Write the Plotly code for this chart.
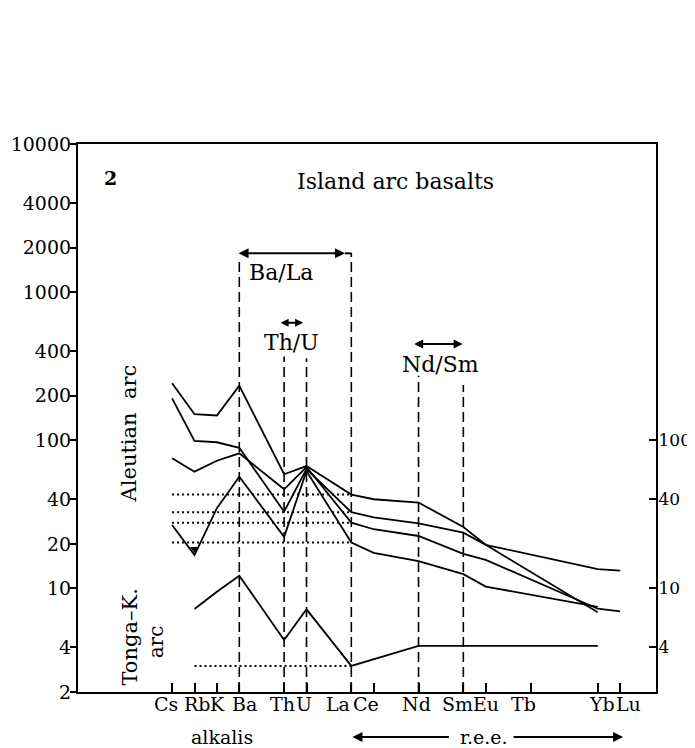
import math
import plotly.graph_objects as go

# ---------------- data ----------------
elements = ["Cs", "Rb", "K", "Ba", "Th", "U", "La", "Ce", "Nd", "Sm", "Eu", "Tb", "Yb", "Lu"]
element_pos = [0, 1, 2, 3, 5, 6, 8, 9, 11, 13, 14, 16, 19, 20]

# Aleutian arc basalts (normalised abundances)
aleutian_1 = [243, 150, 147, 234, 59, 67, 43, 40, 38, 26, 19.7, None, 6.9, None]
aleutian_2 = [192, 99, 97, 89, 33, 64, 32.7, 30.2, 27.5, 23.8, 19.7, None, 13.5, 13.2]
aleutian_3 = [75.6, 61.4, 72.8, 81.7, 46.7, 66, 27.8, 25.1, 22.6, 17.1, 15.6, None, 7.3, 7.0]
aleutian_4 = [26.8, 16.8, 34.8, 56.8, 22.3, 62, 20.4, 17.4, 15.3, 12.5, 10.3, None, 7.5, None]
# Tonga-Kermadec arc
tonga = [None, 7.26, 9.5, 12.2, 4.49, 7.23, 3.0, None, 4.1, None, None, None, 4.1, None]

y_ticks = [2, 4, 10, 20, 40, 100, 200, 400, 1000, 2000, 4000, 10000]
y_ticks_right = [4, 10, 40, 100]

# ---------------- figure ----------------
FONT = "DejaVu Serif"
pos = dict(zip(elements, element_pos))

fig = go.Figure()

line_style = dict(color="black", width=1.8)
for series in [aleutian_1, aleutian_2, aleutian_3, aleutian_4, tonga]:
    fig.add_trace(go.Scatter(x=element_pos, y=series, mode="lines", line=line_style,
                             connectgaps=True, showlegend=False, hoverinfo="skip"))

# dotted reference levels at the La value, running back to the alkalis
i_la = elements.index("La")
for series, start in [(aleutian_1, "Cs"), (aleutian_2, "Cs"), (aleutian_3, "Cs"),
                      (aleutian_4, "Cs"), (tonga, "Rb")]:
    fig.add_trace(go.Scatter(x=[pos[start], pos["La"]], y=[series[i_la], series[i_la]],
                             mode="lines", line=dict(color="black", width=2, dash="2px,3px"),
                             showlegend=False, hoverinfo="skip"))

# small notch at Rb on the lowest Aleutian curve
i_rb = elements.index("Rb")
fig.add_trace(go.Scatter(x=[pos["Rb"]], y=[aleutian_4[i_rb] * 1.1], mode="markers",
                         marker=dict(symbol="triangle-down", size=8, color="black"),
                         showlegend=False, hoverinfo="skip"))

# dummy trace so the right-hand axis is drawn
fig.add_trace(go.Scatter(x=[None], y=[None], yaxis="y2", showlegend=False, hoverinfo="skip"))

# dashed verticals (ratio markers)
dash_tops = {"Ba": 0.794, "La": 0.801, "Th": 0.612, "U": 0.609, "Nd": 0.577, "Sm": 0.560}
for el, top in dash_tops.items():
    fig.add_shape(type="line", xref="x", yref="paper", x0=pos[el], x1=pos[el], y0=0, y1=top,
                  line=dict(color="black", width=1.6, dash="10px,5px"))

# double-headed arrows
def double_arrow(x_head, y_paper, length_px, size=1.0):
    fig.add_annotation(x=x_head, y=y_paper, xref="x", yref="paper", text="",
                       showarrow=True, arrowhead=2, arrowside="end+start", arrowsize=size,
                       arrowwidth=2, arrowcolor="black", axref="pixel", ayref="pixel",
                       ax=-length_px, ay=0, standoff=0, startstandoff=0)

double_arrow(7.72, 0.8005, 108)        # Ba/La
double_arrow(5.85, 0.674, 24, 0.8)     # Th/U
double_arrow(12.97, 0.635, 50, 0.9)    # Nd/Sm
fig.add_shape(type="line", xref="x", yref="paper", x0=7.72, x1=pos["La"], y0=0.8005, y1=0.8005,
              line=dict(color="black", width=2))

# r.e.e. arrows below the axis
fig.add_annotation(x=8.05, y=-0.082, xref="x", yref="paper", text="", showarrow=True,
                   arrowhead=2, arrowsize=1.0, arrowwidth=2, arrowcolor="black",
                   axref="pixel", ayref="pixel", ax=98, ay=0, standoff=0)
fig.add_annotation(x=20.13, y=-0.082, xref="x", yref="paper", text="", showarrow=True,
                   arrowhead=2, arrowsize=1.0, arrowwidth=2, arrowcolor="black",
                   axref="pixel", ayref="pixel", ax=-111, ay=0, standoff=0)

def label(text, x, y, size=20, angle=0, xref="x", xshift=0):
    fig.add_annotation(x=x, y=y, xref=xref, yref="paper", text=text, showarrow=False,
                       textangle=angle, font=dict(family=FONT, size=size, color="black"),
                       xanchor="center", yanchor="middle", xshift=xshift)

# element labels under the axis (typeset positions nudged as in the print)
label_nudge = [-6.5, 2, 1, 5, -2, -3, -13.5, -8, -2, -6, 0, -7, 4.5, 8]
for el, xp, dx in zip(elements, element_pos, label_nudge):
    label(el, xp, -0.0215, 19, xshift=dx)

label("r.e.e.", 13.9, -0.082, 19)
label("alkalis", 2.23, -0.082, 19)
label("Island arc basalts", 9.96, 0.931, 22)
label("<b>2</b>", -2.77, 0.9385, 19)
label("Ba/La", 4.87, 0.765, 22)
label("Th/U", 5.34, 0.637, 22)
label("Nd/Sm", 12.0, 0.597, 22)
label("Aleutian  arc", -1.92, 0.472, 21, -90)
label("Tonga\u2013K.", -1.875, 0.0995, 21, -90)
label("arc", -0.71, 0.091, 20, -90)

yrange = [math.log10(2), 4]

fig.update_layout(
    width=687, height=740,
    margin=dict(l=70, r=39, t=136, b=56),
    paper_bgcolor="white", plot_bgcolor="white",
    font=dict(family=FONT, size=19, color="black"),
    showlegend=False,
    xaxis=dict(range=[-4.2, 21.6], tickmode="array", tickvals=element_pos,
               showticklabels=False, automargin=False,
               ticks="inside", ticklen=9, tickwidth=1.6, tickcolor="black",
               showline=True, linewidth=2.2, linecolor="black", mirror=True,
               showgrid=False, zeroline=False),
    yaxis=dict(type="log", range=yrange, tickmode="array", tickvals=y_ticks,
               ticktext=[str(v) for v in y_ticks], ticks="outside", ticklen=6, tickwidth=1.6,
               tickcolor="black", showline=True, linewidth=2.2, linecolor="black",
               showgrid=False, zeroline=False, automargin=False, ticklabelstandoff=-5,
               tickfont=dict(family=FONT, size=19)),
    yaxis2=dict(type="log", range=yrange, overlaying="y", side="right", tickmode="array",
                tickvals=y_ticks_right, ticktext=[str(v) for v in y_ticks_right],
                ticks="inside", ticklen=7, tickwidth=1.6, tickcolor="black",
                showline=True, linewidth=2.2, linecolor="black", showgrid=False,
                zeroline=False, automargin=False, ticklabelstandoff=-3,
                tickfont=dict(family=FONT, size=17)),
)

fig.write_html("out.html")
